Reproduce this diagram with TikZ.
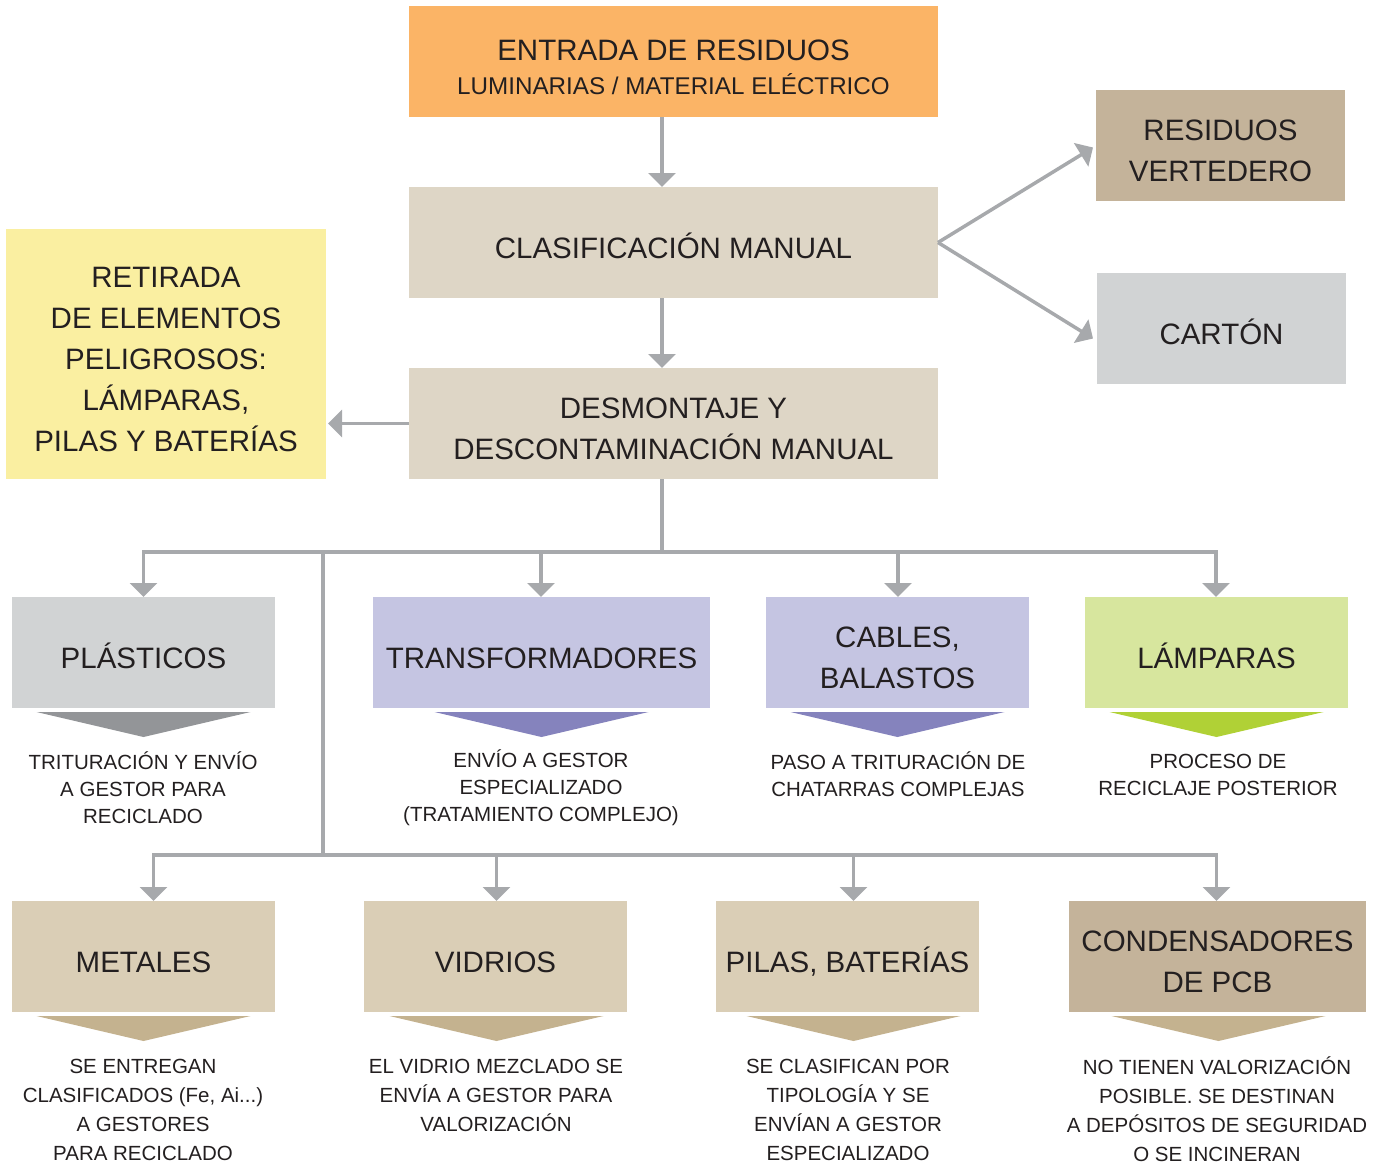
\documentclass[tikz,border=0pt]{standalone}
\usepackage{fontspec}
\setmainfont{Liberation Sans}
\usetikzlibrary{arrows.meta,calc}
\definecolor{cOrange}{HTML}{FBB466}
\definecolor{cBeige}{HTML}{DED6C6}
\definecolor{cYellow}{HTML}{FAEFA1}
\definecolor{cTan}{HTML}{C4B39A}
\definecolor{cGrayL}{HTML}{D1D3D4}
\definecolor{cGrayD}{HTML}{939598}
\definecolor{cLav}{HTML}{C5C5E2}
\definecolor{cPurp}{HTML}{8583BD}
\definecolor{cGreenL}{HTML}{D7E69E}
\definecolor{cGreenD}{HTML}{B0D136}
\definecolor{cSand}{HTML}{DACEB6}
\definecolor{cSandD}{HTML}{C4B28F}
\definecolor{cArrow}{HTML}{A7A9AC}
\definecolor{cText}{HTML}{231F20}
\newcommand\chevron[3]{\fill[#1] ($(#2)+(#3,0)+(-107,4)$) -- ($(#2)+(#3,0)+(107,4)$) -- ($(#2)+(#3,0)+(0,29)$) -- cycle;}
\newcommand\bt[2][-7.5pt]{\raisebox{#1}[\height][\depth]{\begin{tabular}{@{}c@{}}#2\end{tabular}}}
\begin{document}
\begin{tikzpicture}[x=1pt,y=-1pt,
  box/.style={draw=none, inner sep=0pt, outer sep=0pt, minimum height=111pt, align=center, text=cText,
    font=\fontsize{29.5}{41}\selectfont},
  desc/.style={inner sep=0pt, align=center, text=cText, font=\fontsize{20.5}{27}\selectfont},
  descb/.style={inner sep=0pt, align=center, text=cText, font=\fontsize{20.5}{29}\selectfont},
  conn/.style={draw=cArrow, line width=3.5pt},
  arr/.style={conn, -{Triangle[width=27pt,length=14pt]}}]
\useasboundingbox (0,0) rectangle (1378,1165);
% main column
\node[box, fill=cOrange, minimum width=529pt] (entrada) at (673.5,61.5)
  {\bt[-8pt]{ENTRADA DE RESIDUOS\\[-6.8pt]{\fontsize{24.2}{30}\selectfont LUMINARIAS / MATERIAL ELÉCTRICO}}};
\node[box, fill=cBeige, minimum width=529pt] (clasif) at (673.5,242.5) {\bt{CLASIFICACIÓN MANUAL}};
\node[box, fill=cBeige, minimum width=529pt] (desmont) at (673.5,423.5) {\bt{DESMONTAJE Y\\DESCONTAMINACIÓN MANUAL}};
\node[box, fill=cYellow, minimum width=320pt, minimum height=250pt] (retirada) at (166,354)
  {\bt{RETIRADA\\DE ELEMENTOS\\PELIGROSOS:\\LÁMPARAS,\\PILAS Y BATERÍAS}};
\node[box, fill=cTan, minimum width=249pt] (vertedero) at (1220.5,145.5) {\bt{RESIDUOS\\VERTEDERO}};
\node[box, fill=cGrayL, minimum width=249pt] (carton) at (1221.5,328.5) {\bt{CARTÓN}};
% row 1
\node[box, fill=cGrayL, minimum width=263pt] (plasticos) at (143.5,652.5) {\bt{PLÁSTICOS}};
\node[box, fill=cLav, minimum width=337pt] (transf) at (541.5,652.5) {\bt{TRANSFORMADORES}};
\node[box, fill=cLav, minimum width=263pt] (cables) at (897.5,652.5) {\bt{CABLES,\\BALASTOS}};
\node[box, fill=cGreenL, minimum width=263pt] (lamparas) at (1216.5,652.5) {\bt{LÁMPARAS}};
% row 2
\node[box, fill=cSand, minimum width=263pt] (metales) at (143.5,956.5) {\bt{METALES}};
\node[box, fill=cSand, minimum width=263pt] (vidrios) at (495.5,956.5) {\bt{VIDRIOS}};
\node[box, fill=cSand, minimum width=263pt] (pilas) at (847.5,956.5) {\bt{PILAS, BATERÍAS}};
\node[box, fill=cTan, minimum width=297pt] (condens) at (1217.5,956.5) {\bt{CONDENSADORES\\DE PCB}};
% chevrons
\chevron{cGrayD}{plasticos.south}{0}
\chevron{cPurp}{transf.south}{0}
\chevron{cPurp}{cables.south}{0}
\chevron{cGreenD}{lamparas.south}{0}
\chevron{cSandD}{metales.south}{0}
\chevron{cSandD}{vidrios.south}{1}
\chevron{cSandD}{pilas.south}{6}
\chevron{cSandD}{condens.south}{1}
% descriptions
\node[desc] (plasticosd) at (143,788) {TRITURACIÓN Y ENVÍO\\A GESTOR PARA\\RECICLADO};
\node[desc] (transfd) at (541,788) {ENVÍO A GESTOR\\ESPECIALIZADO\\(TRATAMIENTO COMPLEJO)};
\node[desc] (cablesd) at (898,774.5) {PASO A TRITURACIÓN DE\\CHATARRAS COMPLEJAS};
\node[desc] (lamparasd) at (1218,774.5) {PROCESO DE\\RECICLAJE POSTERIOR};
\node[descb] (metalesd) at (143,1109.5) {SE ENTREGAN\\CLASIFICADOS (Fe, Ai...)\\A GESTORES\\PARA RECICLADO};
\node[descb] (vidriosd) at (496,1095) {EL VIDRIO MEZCLADO SE\\ENVÍA A GESTOR PARA\\VALORIZACIÓN};
\node[descb] (pilasd) at (848,1109.5) {SE CLASIFICAN POR\\TIPOLOGÍA Y SE\\ENVÍAN A GESTOR\\ESPECIALIZADO};
\node[descb] (condensd) at (1217,1109.5) {NO TIENEN VALORIZACIÓN\\POSIBLE. SE DESTINAN\\A DEPÓSITOS DE SEGURIDAD\\O SE INCINERAN};
% connectors
\coordinate (ax) at (662,0);
\coordinate (j1) at (662,552);
\coordinate (j2) at (323,855);
\draw[arr] (entrada.south -| ax) -- (clasif.north -| ax);
\draw[arr] (clasif.south -| ax) -- (desmont.north -| ax);
\draw[arr] (desmont.west) -- ($(retirada.east |- desmont.west)+(2,0)$);
\draw[arr] (clasif.east) -- ($(vertedero.west)+(-3,2)$);
\draw[arr] (clasif.east) -- ($(carton.west)+(-4,10)$);
\draw[conn] (desmont.south -| ax) -- (j1);
\draw[arr] (j1) -| (plasticos.north);
\draw[arr] (j1) -| ($(transf.north)+(-0.5,0)$);
\draw[arr] (j1) -| ($(cables.north)+(0.5,0)$);
\draw[arr] (j1) -| ($(lamparas.north)+(-0.5,0)$);
\draw[conn] (j2 |- j1) -- (j2);
\draw[arr] (j2) -| ($(metales.north)+(10,0)$);
\draw[arr] (j2) -| ($(vidrios.north)+(1,0)$);
\draw[arr] (j2) -| ($(pilas.north)+(6,0)$);
\draw[arr] (j2) -| ($(condens.north)+(-1,0)$);
\end{tikzpicture}
\end{document}
